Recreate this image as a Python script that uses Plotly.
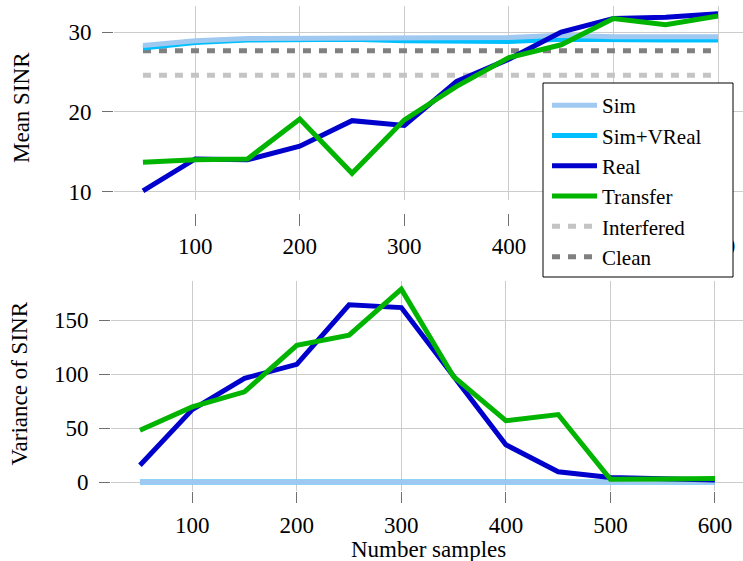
import plotly.graph_objects as go

W, H = 743, 561

samples = [50, 100, 150, 200, 250, 300, 350, 400, 450, 500, 550, 600]

# Mean SINR
mean_sim = [28.3, 28.9, 29.2, 29.2, 29.3, 29.3, 29.3, 29.3, 29.6, 29.4, 29.4, 29.4]
mean_simvreal = [28.0, 28.7, 29.0, 29.0, 29.1, 28.9, 28.9, 28.8, 29.1, 29.0, 29.0, 29.0]
mean_real = [10.1, 14.1, 14.0, 15.7, 18.9, 18.3, 23.8, 26.6, 30.0, 31.7, 31.85, 32.3]
mean_transfer = [13.7, 14.0, 14.1, 19.1, 12.3, 19.0, 23.2, 26.8, 28.4, 31.7, 30.9, 32.0]
mean_interfered = [24.6, 24.6, 24.6, 24.6, 24.6, 24.6, 24.6, 24.6, 24.6, 24.6, 24.6, 24.6]
mean_clean = [27.65, 27.65, 27.65, 27.65, 27.65, 27.65, 27.65, 27.65, 27.65, 27.65, 27.65, 27.65]

# Variance of SINR
var_sim = [0, 0, 0, 0, 0, 0, 0, 0, 0, 0, 0, 0]
var_simvreal = [0, 0, 0, 0, 0, 0, 0, 0, 0, 0, 0, 0]
var_real = [15.5, 67, 96, 109, 164, 161.5, 98, 34.5, 9.5, 4.3, 3.0, 1.8]
var_transfer = [48, 69.5, 83.5, 126.5, 136, 178.5, 97.5, 56.8, 62.5, 2.5, 2.8, 3.3]

x_ticks = [100, 200, 300, 400, 500, 600]
y1_ticks = [10, 20, 30]
y2_ticks = [0, 50, 100, 150]

C_SIM = "#9fc9f1"
C_SIMV = "#00bfff"
C_REAL = "#0000cc"
C_TRANS = "#00b400"
C_INTF = "#c4c4c4"
C_CLEAN = "#808080"

FONT = "Liberation Serif"
FS = 23
LW = 5

fig = go.Figure()

def add(x, y, name, color, rank, xa, ya, show, dash=None):
    fig.add_trace(go.Scatter(
        x=x, y=y, name=name, mode="lines",
        line=dict(color=color, width=LW, dash=dash),
        legendrank=rank, showlegend=show, xaxis=xa, yaxis=ya))

# top plot
add(samples, mean_interfered, "Interfered", C_INTF, 5, "x", "y", True, "8px,8px")
add(samples, mean_clean, "Clean", C_CLEAN, 6, "x", "y", True, "8px,8px")
add(samples, mean_simvreal, "Sim+VReal", C_SIMV, 2, "x", "y", True)
add(samples, mean_sim, "Sim", C_SIM, 1, "x", "y", True)
add(samples, mean_real, "Real", C_REAL, 3, "x", "y", True)
add(samples, mean_transfer, "Transfer", C_TRANS, 4, "x", "y", True)

# bottom plot
add(samples, var_simvreal, "Sim+VReal", C_SIMV, 2, "x2", "y2", False)
add(samples, var_sim, "Sim", C_SIM, 1, "x2", "y2", False)
add(samples, var_real, "Real", C_REAL, 3, "x2", "y2", False)
add(samples, var_transfer, "Transfer", C_TRANS, 4, "x2", "y2", False)

GRID = "#cccccc"
TICKC = "#707070"
tickfont = dict(family=FONT, size=FS, color="black")

common = dict(showline=False, zeroline=False, showgrid=True, gridcolor=GRID,
              gridwidth=1, ticks="outside", tickcolor=TICKC, tickwidth=1,
              tickfont=tickfont, automargin=False)

fig.update_layout(
    width=W, height=H,
    margin=dict(l=0, r=0, t=0, b=0),
    paper_bgcolor="white", plot_bgcolor="white",
    font=dict(family=FONT, color="black"),
    xaxis=dict(domain=[114 / W, 1], range=[22.3, 623.9], anchor="free",
               position=1 - 213 / H, tickvals=x_ticks, ticklen=12,
               ticklabelstandoff=0, **common),
    yaxis=dict(domain=[1 - 200 / H, 1 - 6 / H], range=[8.96, 33.26],
               anchor="free", position=113 / W, tickvals=y1_ticks,
               ticklen=11, ticklabelstandoff=6, **common),
    xaxis2=dict(domain=[111 / W, 1], range=[22.3, 626.8], anchor="y2",
                tickvals=x_ticks, ticklen=11, ticklabelstandoff=2, **common),
    yaxis2=dict(domain=[1 - 491 / H, 1 - 281 / H], range=[-8.3, 186.1],
                anchor="free", position=110 / W, tickvals=y2_ticks,
                ticklen=11, ticklabelstandoff=6, **common),
    legend=dict(x=547 / W, y=1 - 85 / H, xanchor="left", yanchor="top",
                bgcolor="rgba(0,0,0,0)", borderwidth=0,
                font=dict(family=FONT, size=21, color="black"),
                itemwidth=45, traceorder="normal"),
    shapes=[dict(type="rect", xref="paper", yref="paper",
                 x0=543 / W, x1=733 / W, y0=1 - 277 / H, y1=1 - 83 / H,
                 fillcolor="white", line=dict(color="black", width=1),
                 layer="above")],
    annotations=[
        dict(text="Mean SINR", x=21 / W, y=1 - 108 / H, xref="paper", yref="paper",
             textangle=-90, showarrow=False, font=dict(family=FONT, size=FS),
             xanchor="center", yanchor="middle"),
        dict(text="Variance of SINR", x=18.5 / W, y=1 - 384 / H, xref="paper",
             yref="paper", textangle=-90, showarrow=False,
             font=dict(family=FONT, size=FS), xanchor="center", yanchor="middle"),
        dict(text="Number samples", x=428 / W, y=1 - 549 / H, xref="paper",
             yref="paper", showarrow=False, font=dict(family=FONT, size=FS),
             xanchor="center", yanchor="middle"),
    ],
)

fig.write_html("out.html")
